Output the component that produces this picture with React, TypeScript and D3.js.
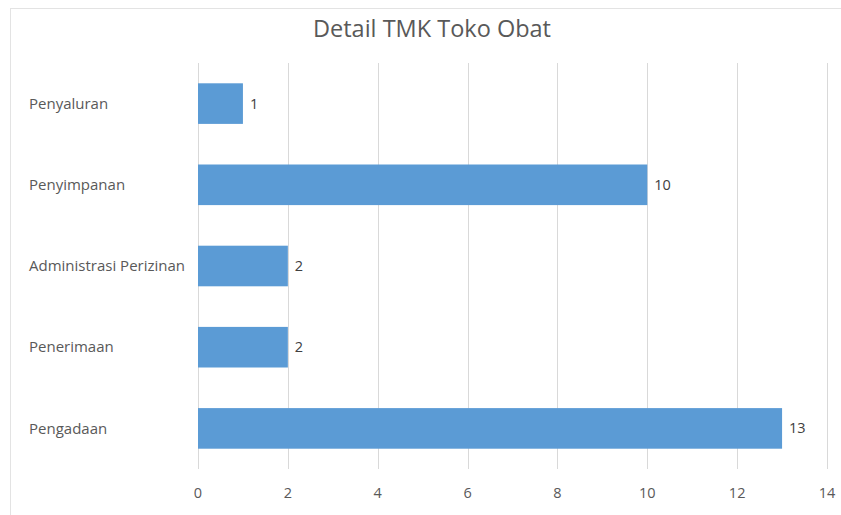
import React from "react";
import * as d3 from "d3";

const categories = ["Penyaluran", "Penyimpanan", "Administrasi Perizinan", "Penerimaan", "Pengadaan"];
const values = [1, 10, 2, 2, 13];
const xTicks = [0, 2, 4, 6, 8, 10, 12, 14];
const title = "Detail TMK Toko Obat";

const W = 841;
const H = 515;
const margin = { top: 63, right: 14, bottom: 46, left: 198 };

const App = () => {
  const svgRef = React.useRef<SVGSVGElement>(null);

  React.useEffect(() => {
    const width = W - margin.left - margin.right;
    const height = H - margin.top - margin.bottom;
    const font = "'Open Sans', 'Noto Sans', sans-serif";

    const xScale = d3.scaleLinear().domain([0, 14]).range([0, width]);
    const yScale = d3.scaleBand().domain(categories).range([0, height]).paddingInner(0.5).paddingOuter(0.25);

    const svgEl = d3.select(svgRef.current);
    svgEl.selectAll("*").remove();

    // outer chart frame
    svgEl
      .append("rect")
      .attr("x", 10.5)
      .attr("y", 8.5)
      .attr("width", W)
      .attr("height", H)
      .attr("fill", "white")
      .attr("stroke", "#e3e3e3");

    svgEl
      .append("text")
      .attr("x", 432)
      .attr("y", 37)
      .attr("text-anchor", "middle")
      .attr("font-family", font)
      .attr("font-size", 23.5)
      .attr("fill", "#595959")
      .text(title);

    const svg = svgEl.append("g").attr("transform", `translate(${margin.left},${margin.top})`);

    // grid lines
    svg
      .selectAll(".grid")
      .data(xTicks)
      .enter()
      .append("line")
      .attr("x1", (d) => Math.round(xScale(d)) + 0.5)
      .attr("x2", (d) => Math.round(xScale(d)) + 0.5)
      .attr("y1", 0)
      .attr("y2", height)
      .attr("stroke", "#d9d9d9")
      .attr("stroke-width", 1);

    svg
      .selectAll(".xlab")
      .data(xTicks)
      .enter()
      .append("text")
      .attr("x", (d) => xScale(d))
      .attr("y", height + 29)
      .attr("text-anchor", "middle")
      .attr("font-family", font)
      .attr("font-size", 14.5)
      .attr("fill", "#595959")
      .text((d) => `${d}`);

    svg
      .selectAll(".bar")
      .data(values)
      .enter()
      .append("rect")
      .attr("x", 0)
      .attr("y", (d, i) => yScale(categories[i])!)
      .attr("width", (d) => xScale(d))
      .attr("height", yScale.bandwidth())
      .attr("fill", "#5b9bd5");

    svg
      .selectAll(".val")
      .data(values)
      .enter()
      .append("text")
      .attr("x", (d) => xScale(d) + 7)
      .attr("y", (d, i) => yScale(categories[i])! + yScale.bandwidth() / 2)
      .attr("dy", "0.35em")
      .attr("font-family", font)
      .attr("font-size", 14.5)
      .attr("fill", "#404040")
      .text((d) => `${d}`);

    svg
      .selectAll(".cat")
      .data(categories)
      .enter()
      .append("text")
      .attr("x", 29 - margin.left)
      .attr("y", (d) => yScale(d)! + yScale.bandwidth() / 2)
      .attr("dy", "0.35em")
      .attr("font-family", font)
      .attr("font-size", 15)
      .attr("fill", "#595959")
      .text((d) => d);
  }, []);

  return <svg ref={svgRef} width={W} height={H} style={{ position: "absolute", left: 0, top: 0 }} />;
};

export default App;
